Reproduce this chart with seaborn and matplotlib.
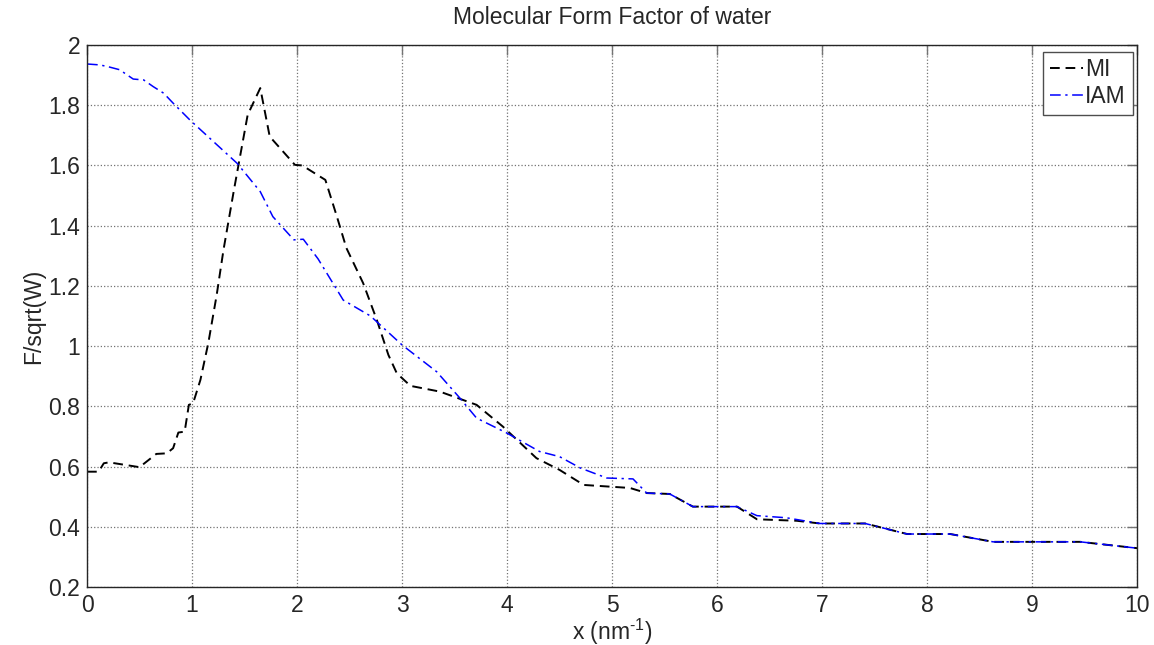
import matplotlib
matplotlib.use("Agg")
import matplotlib.pyplot as plt
import seaborn as sns
import pandas as pd

# MI curve (black dashed)
mi_x = [0, 0.11, 0.16, 0.21, 0.5, 0.66, 0.76, 0.82, 0.87, 0.93,
        0.97, 1.01, 1.08, 1.155, 1.235, 1.30, 1.40, 1.53, 1.65, 1.74,
        1.98, 2.05, 2.27, 2.38, 2.47, 2.63, 2.76, 2.87, 2.95, 3.08,
        3.36, 3.71, 3.96, 4.28, 4.50, 4.73, 5.17, 5.33, 5.55, 5.77,
        6.19, 6.38, 6.76, 6.98, 7.41, 7.81, 8.22, 8.63, 9.46, 10]
mi_y = [0.583, 0.583, 0.611, 0.614, 0.598, 0.642, 0.644, 0.661, 0.713, 0.716,
        0.805, 0.81, 0.888, 1.01, 1.17, 1.32, 1.52, 1.768, 1.857, 1.696,
        1.602, 1.60, 1.552, 1.43, 1.326, 1.209, 1.087, 0.971, 0.91, 0.868,
        0.849, 0.805, 0.733, 0.628, 0.589, 0.539, 0.529, 0.512, 0.509, 0.467,
        0.467, 0.425, 0.42, 0.411, 0.411, 0.376, 0.376, 0.35, 0.35, 0.329]

# IAM curve (blue dash-dot)
iam_x = [0, 0.12, 0.19, 0.31, 0.44, 0.54, 0.63, 0.73, 0.82, 0.98,
         1.43, 1.65, 1.77, 1.97, 2.06, 2.2, 2.44, 2.70, 3.0, 3.33,
         3.55, 3.71, 4.0, 4.31, 4.50, 4.70, 4.95, 5.20, 5.33, 5.55,
         5.77, 6.19, 6.38, 6.66, 6.98, 7.41, 7.81, 8.22, 8.63, 9.46, 10]
iam_y = [1.937, 1.934, 1.929, 1.918, 1.887, 1.884, 1.862, 1.84, 1.807, 1.751,
         1.607, 1.513, 1.43, 1.353, 1.355, 1.29, 1.153, 1.10, 1.004, 0.915,
         0.828, 0.761, 0.711, 0.65, 0.633, 0.595, 0.562, 0.559, 0.512, 0.509,
         0.467, 0.467, 0.437, 0.43, 0.411, 0.411, 0.376, 0.376, 0.35, 0.35, 0.329]

x_ticks = list(range(0, 11))
y_ticks = [0.2, 0.4, 0.6, 0.8, 1.0, 1.2, 1.4, 1.6, 1.8, 2.0]
y_tick_labels = ["0.2", "0.4", "0.6", "0.8", "1", "1.2", "1.4", "1.6", "1.8", "2"]

FS = 16.5

sns.set_style("white")
plt.rcParams["font.family"] = ["Liberation Sans", "DejaVu Sans"]
plt.rcParams["mathtext.fontset"] = "custom"
plt.rcParams["mathtext.rm"] = "Liberation Sans"

fig = plt.figure(figsize=(11.54, 6.45), dpi=100)
ax = fig.add_axes([0.0754, 0.0899, 0.9099, 0.8403])

mi_df = pd.DataFrame({"x": mi_x, "y": mi_y})
iam_df = pd.DataFrame({"x": iam_x, "y": iam_y})

sns.lineplot(data=mi_df, x="x", y="y", ax=ax, color="black",
             linestyle=(0, (5, 3)), linewidth=1.4, sort=False,
             estimator=None, label="MI")
sns.lineplot(data=iam_df, x="x", y="y", ax=ax, color="blue",
             linestyle=(0, (7, 3, 1.5, 3)), linewidth=1.1, sort=False,
             estimator=None, label="IAM")

ax.set_xlim(0, 10)
ax.set_ylim(0.2, 2)
ax.set_xticks(x_ticks)
ax.set_yticks(y_ticks)
ax.set_yticklabels(y_tick_labels)
ax.grid(True, linestyle=":", color="0.45", linewidth=0.9)
ax.tick_params(direction="in", length=7, width=1, color="0.45",
               top=True, right=True, labelsize=FS, pad=5)
for s in ax.spines.values():
    s.set_color("0.15")
    s.set_linewidth(1)

ax.set_title("Molecular Form Factor of water", fontsize=FS, pad=15)
ax.set_xlabel(r"x (nm$^{\text{-1}}$)", fontsize=FS, labelpad=0)
ax.set_ylabel("F/sqrt(W)", fontsize=FS, labelpad=2)

leg = ax.legend(loc="upper right", bbox_to_anchor=(0.996, 0.988), fancybox=False,
                framealpha=1, edgecolor="0.3", fontsize=FS, handlelength=1.45,
                handletextpad=0.1, borderpad=0.3, labelspacing=0.15,
                borderaxespad=0.0)
leg.get_frame().set_linewidth(1)

fig.savefig("out.png", dpi=100)
